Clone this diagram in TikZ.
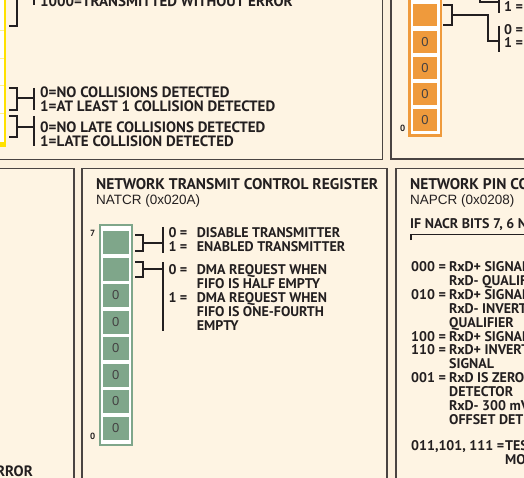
\documentclass[tikz,border=0pt]{standalone}
\usepackage{fontspec}
\setmainfont{PT Sans}
\newfontfamily\helv{Liberation Sans}
\definecolor{ink}{HTML}{231F20}
\definecolor{paper}{HTML}{FEF4E3}
\definecolor{bgc}{HTML}{FCF0DD}
\definecolor{edge}{HTML}{4A4442}
\definecolor{grn}{HTML}{7FA68A}
\definecolor{org}{HTML}{EF9A3C}
\definecolor{yel}{HTML}{FFE100}
\begin{document}
\begin{tikzpicture}[x=1pt,y=-1pt,
  panel/.style={draw=edge,fill=paper,line width=1.3pt},
  txt/.style={font=\bfseries\fontsize{14}{15}\selectfont,text=ink,inner sep=0pt,anchor=base west},
  txtL/.style={txt,font=\bfseries\fontsize{15}{16}\selectfont},
  ttl/.style={font=\bfseries\fontsize{15.5}{16}\selectfont,text=ink,inner sep=0pt,anchor=base west},
  sub/.style={font=\helv\fontsize{13.5}{14}\selectfont,text=ink,inner sep=0pt,anchor=base west},
  bitno/.style={font=\bfseries\fontsize{9}{10}\selectfont,text=ink,inner sep=0pt,anchor=base west},
  cellnum/.style={font=\helv\fontsize{13}{14}\selectfont,text=ink!85},
  gcell/.style={fill=grn,minimum width=25.5pt,minimum height=23pt,inner sep=0pt,cellnum},
  ocell/.style={fill=org,minimum width=24pt,minimum height=22pt,inner sep=0pt,cellnum},
  brk/.style={draw=ink,line width=2pt},
]
\useasboundingbox (0,0) rectangle (524,478);
\clip (0,0) rectangle (524,478);
\fill[bgc] (0,0) rectangle (524,478);

% panel frames
\draw[panel] (-10,-10) rectangle (382.5,159.5);
\draw[panel] (391,-10) rectangle (534,159);
\draw[panel] (-10,168.5) rectangle (74,488);
\draw[panel] (82,168.5) rectangle (387,488);
\draw[panel] (396,168.5) rectangle (534,488);

% ---- status register (yellow), right edge only
\fill[yel] (-20,-20) rectangle (6,147);
\fill[white] (-20,-20) rectangle (4,142.5);
\foreach \yy in {30.5,58,85.5,113}
  \draw[yel!45,line width=0.8pt] (-1,\yy) -- (4,\yy);

\draw[brk] (17,-10) -- (17,26) -- (9,26);
\draw[brk] (34,-10) -- (34,5);
\node[txtL] (st0) at (40,6.7) {1000=TRANSMITTED WITHOUT ERROR};

\draw[brk] (9,88) -- (17,88) -- (17,110) -- (9,110);
\draw[brk] (17,98) -- (34,98);
\draw[brk] (34,88) -- (34,110);
\node[txtL] (st1) at (40,97.3) {0=NO COLLISIONS DETECTED};
\node[txtL] (st2) at (40,111.7) {1=AT LEAST 1 COLLISION DETECTED};

\draw[brk] (9,116) -- (17,116) -- (17,137) -- (9,137);
\draw[brk] (17,127) -- (34,127);
\draw[brk] (34,116) -- (34,146);
\node[txtL] (st3) at (40,132.7) {0=NO LATE COLLISIONS DETECTED};
\node[txtL] (st4) at (40,146.7) {1=LATE COLLISION DETECTED};

% ---- orange register, top right
\fill[org] (408,-20) rectangle (442,137.3);
\fill[white] (410.5,-20) rectangle (439.5,134.5);
\node[ocell] (o0) at (425,-10.5) {};
\node[ocell] (o1) at (425,15.5) {};
\foreach \k/\yy in {2/42,3/68,4/94,5/120}
  \node[ocell] (o\k) at (425,\yy) {0};
\node[bitno] (obit0) at (400,132) {0};

\draw[brk] (443,5) -- (452,5) -- (452,25) -- (443,25);
\draw[brk] (452,15) -- (488,15) -- (488,41) -- (499,41);
\draw[brk] (499,26) -- (499,52);
\draw[brk] (480,-10) -- (480,2) -- (499,2);
\draw[brk] (499,-10) -- (499,13);
\node[txt] (oa) at (504,12) {1 =};
\node[txt] (ob) at (504,35) {0 =};
\node[txt] (oc) at (504,48) {1 =};

% ---- bottom left panel
\node[txtL,anchor=base east] (err) at (33,476) {ERROR};

% ---- NATCR panel
\node[ttl] (natT) at (96,190) {NETWORK TRANSMIT CONTROL REGISTER};
\node[sub] (natS) at (96,205) {NATCR (0x020A)};

\fill[grn] (99,224.5) rectangle (132.5,445.5);
\fill[white] (101,226.5) rectangle (130.5,443.5);
\node[gcell] (g0) at (115.75,242.5) {};
\node[gcell] (g1) at (115.75,269) {};
\foreach \k in {2,...,7}
  \node[gcell] (g\k) at (115.75,242.5+26.5*\k) {0};
\node[bitno] (gbit7) at (90,236.7) {7};
\node[bitno] (gbit0) at (90,439) {0};

\draw[brk] (135,234.5) -- (142.5,234.5) -- (142.5,250.5) -- (135,250.5);
\draw[brk] (142.5,242.5) -- (163,242.5);
\draw[brk] (163,227) -- (163,253);
\node[txt] (n7a) at (168.3,237.5) {0 =};
\node[txt] (n7b) at (196.7,237.5) {DISABLE TRANSMITTER};
\node[txt] (n7c) at (168.3,251.3) {1 =};
\node[txt] (n7d) at (196.7,251.3) {ENABLED TRANSMITTER};

\draw[brk] (135,261.5) -- (142.5,261.5) -- (142.5,277) -- (135,277);
\draw[brk] (142.5,269) -- (163,269);
\draw[brk] (163,262) -- (163,331);
\node[txt] (n6a) at (168.3,274.3) {0 =};
\node[txt] (n6b) at (196.7,274.3) {DMA REQUEST WHEN};
\node[txt] (n6c) at (196.7,288.4) {FIFO IS HALF EMPTY};
\node[txt] (n6d) at (168.3,302.5) {1 =};
\node[txt] (n6e) at (196.7,302.5) {DMA REQUEST WHEN};
\node[txt] (n6f) at (196.7,316.7) {FIFO IS ONE-FOURTH};
\node[txt] (n6g) at (196.7,330.9) {EMPTY};

% ---- NAPCR panel
\node[ttl] (napT) at (410,190) {NETWORK PIN CONTROL REGISTER};
\node[sub] (napS) at (410,205) {NAPCR (0x0208)};
\node[txt] (napC) at (410,229) {IF NACR BITS 7, 6 NOT EQUAL 11};
\draw[draw=ink,line width=1.5pt] (411,240) -- (411,234.3) -- (534,234.3);

\node[txt] (p0a) at (411,271) {000 =};
\node[txt] (p0b) at (449,271) {RxD+ SIGNAL};
\node[txt] (p0c) at (449,285) {RxD- QUALIFIER};
\node[txt] (p1a) at (411,299) {010 =};
\node[txt] (p1b) at (449,299) {RxD+ SIGNAL};
\node[txt] (p1c) at (449,313) {RxD- INVERTED};
\node[txt] (p1d) at (449,327) {QUALIFIER};
\node[txt] (p2a) at (411,341) {100 =};
\node[txt] (p2b) at (449,341) {RxD+ SIGNAL};
\node[txt] (p3a) at (411,354.5) {110 =};
\node[txt] (p3b) at (449,354.5) {RxD+ INVERTED};
\node[txt] (p3c) at (449,368.5) {SIGNAL};
\node[txt] (p4a) at (411,382.5) {001 =};
\node[txt] (p4b) at (449,382.5) {RxD IS ZERO};
\node[txt] (p4c) at (449,396.5) {DETECTOR};
\node[txt] (p4d) at (449,410.5) {RxD- 300 mV};
\node[txt] (p4e) at (449,424.5) {OFFSET DETECTOR};
\node[txt] (p5a) at (411,450) {011,101, 111 =};
\node[txt] (p5b) at (505,450) {TEST};
\node[txt] (p5c) at (505,464) {MODES};
\end{tikzpicture}
\end{document}
